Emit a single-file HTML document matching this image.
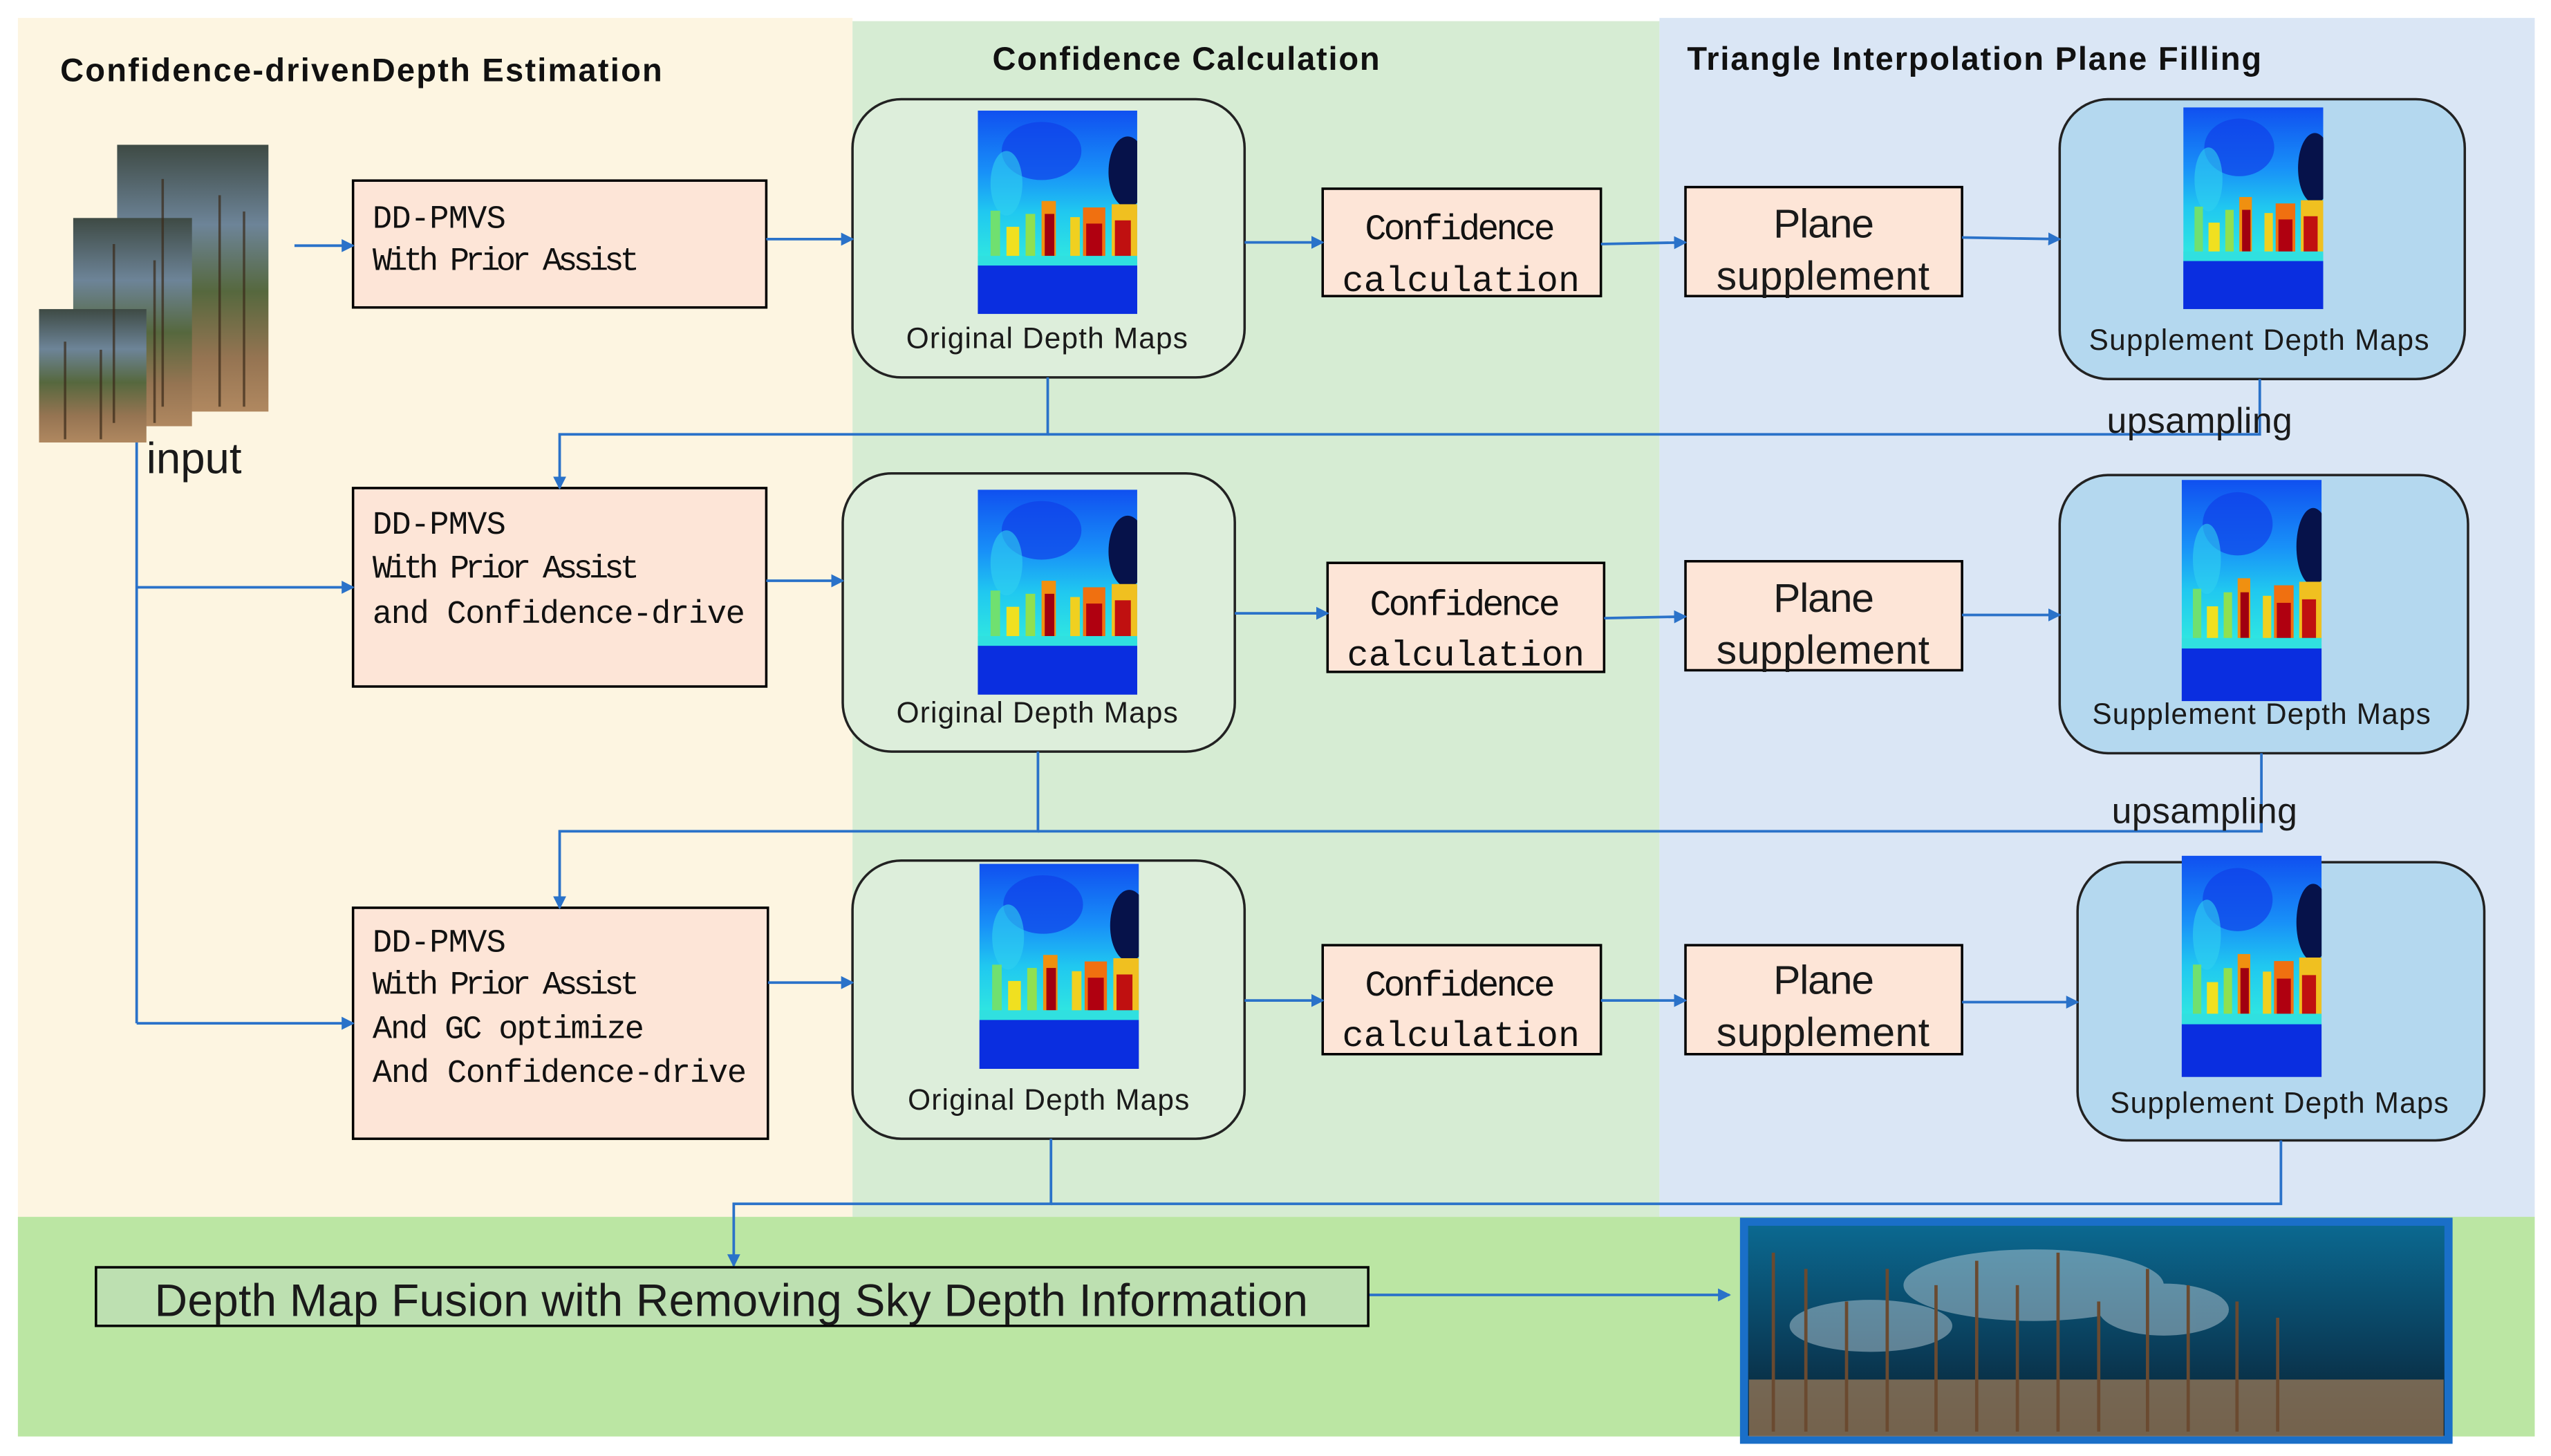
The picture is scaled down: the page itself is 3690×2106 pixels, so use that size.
<!DOCTYPE html>
<html><head><meta charset="utf-8"><style>
html,body{margin:0;padding:0;background:#fff;}
svg{display:block;}
.mono{font-family:"Liberation Mono",monospace;fill:#111;}
.sans{font-family:"Liberation Sans Narrow","Liberation Sans",sans-serif;fill:#1a1a1a;}
.t{font-family:"Liberation Sans",sans-serif;font-weight:bold;fill:#111;}
.ln{stroke:#2a72c9;stroke-width:1.6;fill:none;}
</style></head><body>
<svg width="3690" height="2106" viewBox="0 0 1568 895" preserveAspectRatio="none" xmlns="http://www.w3.org/2000/svg">
<defs>
<marker id="ar" markerWidth="8" markerHeight="8" refX="7" refY="4" orient="auto" markerUnits="userSpaceOnUse">
<path d="M0,0 L8,4 L0,8 z" fill="#2a72c9"/></marker>
<linearGradient id="jet" x1="0" y1="0" x2="0" y2="1">
<stop offset="0" stop-color="#1050f0"/><stop offset="0.3" stop-color="#1890f8"/>
<stop offset="0.5" stop-color="#20c8f0"/><stop offset="0.74" stop-color="#30e8e0"/>
<stop offset="0.78" stop-color="#1060f0"/><stop offset="1" stop-color="#0010c8"/></linearGradient>
<symbol id="dm" viewBox="0 0 100 126" preserveAspectRatio="none">
<rect width="100" height="126" fill="url(#jet)"/>
<ellipse cx="40" cy="25" rx="25" ry="18" fill="#1040e8" opacity="0.7"/>
<ellipse cx="18" cy="45" rx="10" ry="20" fill="#30d0f0" opacity="0.6"/>
<ellipse cx="94" cy="38" rx="12" ry="22" fill="#06124a"/>
<rect x="8" y="62" width="6" height="30" fill="#70e070"/>
<rect x="18" y="72" width="8" height="20" fill="#f0e020"/>
<rect x="30" y="64" width="6" height="28" fill="#90e050"/>
<rect x="40" y="56" width="9" height="36" fill="#f09010"/>
<rect x="42" y="64" width="6" height="26" fill="#a00010"/>
<rect x="58" y="66" width="6" height="26" fill="#f0d020"/>
<rect x="66" y="60" width="14" height="32" fill="#f07010"/>
<rect x="68" y="70" width="10" height="22" fill="#b00010"/>
<rect x="84" y="58" width="16" height="34" fill="#f0c020"/>
<rect x="86" y="68" width="10" height="24" fill="#c01010"/>
<rect x="0" y="90" width="100" height="6" fill="#30e0e0"/>
<rect x="0" y="96" width="100" height="30" fill="#0a2ee0"/>
</symbol>
<linearGradient id="photo" x1="0" y1="0" x2="0" y2="1">
<stop offset="0" stop-color="#3e4a44"/><stop offset="0.3" stop-color="#6d8498"/>
<stop offset="0.55" stop-color="#56683e"/><stop offset="0.8" stop-color="#957452"/><stop offset="1" stop-color="#b08860"/></linearGradient>
<linearGradient id="pc" x1="0" y1="0" x2="0" y2="1">
<stop offset="0" stop-color="#0b6a92"/><stop offset="0.6" stop-color="#0a3c58"/><stop offset="1" stop-color="#071c28"/></linearGradient>
</defs>
<rect x="11" y="11" width="513" height="737" fill="#fdf5e1"/>
<rect x="524" y="13" width="496" height="735" fill="#d6ecd3"/>
<rect x="1020" y="11" width="538" height="739" fill="#dae6f5"/>
<rect x="11" y="748" width="1547" height="135" fill="#bbe6a3"/>
<text class="t" x="37" y="50" font-size="20" textLength="370">Confidence-drivenDepth Estimation</text>
<text class="t" x="610" y="43" font-size="20" textLength="238">Confidence Calculation</text>
<text class="t" x="1037" y="43" font-size="20" textLength="353">Triangle Interpolation Plane Filling</text>
<rect x="72" y="89" width="93" height="164" fill="url(#photo)"/>
<rect x="45" y="134" width="73" height="128" fill="url(#photo)"/>
<rect x="24" y="190" width="66" height="82" fill="url(#photo)"/>
<g stroke="#3a2a1a" stroke-width="1.5" opacity="0.7">
<path d="M100,110 V250 M135,120 V250 M150,130 V250 M70,150 V260 M95,160 V260 M40,210 V270 M62,215 V270"/></g>
<text class="sans" x="90" y="291" font-size="27">input</text>
<g fill="#fde5d7" stroke="#000" stroke-width="1.5">
<rect x="217" y="111" width="254" height="78"/>
<rect x="217" y="300" width="254" height="122"/>
<rect x="217" y="558" width="255" height="142"/>
</g>
<g class="mono" font-size="20">
<text x="229" y="140" textLength="82">DD-PMVS</text><text x="229" y="166" textLength="164">With Prior Assist</text>
<text x="229" y="328" textLength="82">DD-PMVS</text><text x="229" y="355" textLength="164">With Prior Assist</text><text x="229" y="383" textLength="229">and Confidence-drive</text>
<text x="229" y="585" textLength="82">DD-PMVS</text><text x="229" y="611" textLength="164">With Prior Assist</text><text x="229" y="638" textLength="167">And GC optimize</text><text x="229" y="665" textLength="230">And Confidence-drive</text>
</g>
<g fill="#ddeedb" stroke="#222" stroke-width="1.5">
<rect x="524" y="61" width="241" height="171" rx="30"/>
<rect x="518" y="291" width="241" height="171" rx="30"/>
<rect x="524" y="529" width="241" height="171" rx="30"/>
</g>
<g fill="#b4d8ef" stroke="#222" stroke-width="1.5">
<rect x="1266" y="61" width="249" height="172" rx="30"/>
<rect x="1266" y="292" width="251" height="171" rx="30"/>
<rect x="1277" y="530" width="250" height="171" rx="30"/>
</g>
<use href="#dm" x="601" y="68" width="98" height="125"/>
<use href="#dm" x="601" y="301" width="98" height="126"/>
<use href="#dm" x="602" y="531" width="98" height="126"/>
<use href="#dm" x="1342" y="66" width="86" height="124"/>
<use href="#dm" x="1341" y="295" width="86" height="136"/>
<use href="#dm" x="1341" y="526" width="86" height="136"/>
<g class="sans" font-size="18">
<text x="557" y="214" textLength="173">Original Depth Maps</text>
<text x="551" y="444" textLength="173">Original Depth Maps</text>
<text x="558" y="682" textLength="173">Original Depth Maps</text>
<text x="1284" y="215" textLength="209">Supplement Depth Maps</text>
<text x="1286" y="445" textLength="208">Supplement Depth Maps</text>
<text x="1297" y="684" textLength="208">Supplement Depth Maps</text>
</g>
<g fill="#fde5d7" stroke="#000" stroke-width="1.5">
<rect x="813" y="116" width="171" height="66"/><rect x="816" y="346" width="170" height="67"/><rect x="813" y="581" width="171" height="67"/>
<rect x="1036" y="115" width="170" height="67"/><rect x="1036" y="345" width="170" height="67"/><rect x="1036" y="581" width="170" height="67"/>
</g>
<g class="mono" font-size="22">
<text x="839" y="147" textLength="117">Confidence</text><text x="825" y="179" textLength="146">calculation</text>
<text x="842" y="378" textLength="117">Confidence</text><text x="828" y="409" textLength="146">calculation</text>
<text x="839" y="612" textLength="117">Confidence</text><text x="825" y="643" textLength="146">calculation</text>
</g>
<g class="sans" font-size="25">
<text x="1090" y="146" textLength="62">Plane</text><text x="1055" y="178" textLength="131">supplement</text>
<text x="1090" y="376" textLength="62">Plane</text><text x="1055" y="408" textLength="131">supplement</text>
<text x="1090" y="611" textLength="62">Plane</text><text x="1055" y="643" textLength="131">supplement</text>
</g>
<g class="ln" marker-end="url(#ar)">
<path d="M181,151 H217"/><path d="M471,147 H524"/><path d="M765,149 H813"/><path d="M984,150 L1036,149"/><path d="M1206,146 L1266,147"/>
<path d="M644,232 V267 H344 V300"/><path d="M84,361 H217"/><path d="M84,629 H217"/>
<path d="M471,357 H518"/><path d="M759,377 H816"/><path d="M986,380 L1036,379"/><path d="M1206,378 H1266"/>
<path d="M638,462 V511 H344 V558"/>
<path d="M472,604 H524"/><path d="M765,615 H813"/><path d="M984,615 H1036"/><path d="M1206,616 H1277"/>
<path d="M646,700 V740 H451 V778"/>
<path d="M841,796 H1063"/>
</g>
<g class="ln">
<path d="M84,272 V629"/><path d="M1389,233 V267 H644"/><path d="M1390,463 V511 H638"/><path d="M1402,701 V740 H646"/>
</g>
<text class="sans" x="1295" y="266" font-size="22" textLength="114">upsampling</text>
<text class="sans" x="1298" y="506" font-size="22" textLength="114">upsampling</text>
<rect x="59" y="779" width="782" height="36" fill="#bde0b1" stroke="#000" stroke-width="1.5"/>
<text class="sans" x="95" y="809" font-size="28" textLength="709">Depth Map Fusion with Removing Sky Depth Information</text>
<rect x="1072" y="751" width="433" height="134" fill="url(#pc)" stroke="#1a6fc8" stroke-width="5"/>
<rect x="1075" y="848" width="427" height="35" fill="#9a7a58" opacity="0.75"/>
<g fill="#c8d8e0" opacity="0.45"><ellipse cx="1250" cy="790" rx="80" ry="22"/><ellipse cx="1150" cy="815" rx="50" ry="16"/><ellipse cx="1330" cy="805" rx="40" ry="16"/></g>
<g stroke="#6a4a30" stroke-width="2">
<path d="M1090,770 V880 M1110,780 V880 M1135,800 V880 M1160,780 V880 M1190,790 V880 M1215,775 V880 M1240,790 V880 M1265,770 V880 M1290,800 V880 M1320,780 V880 M1345,790 V880 M1375,800 V880 M1400,810 V880"/></g>
</svg>
</body></html>
